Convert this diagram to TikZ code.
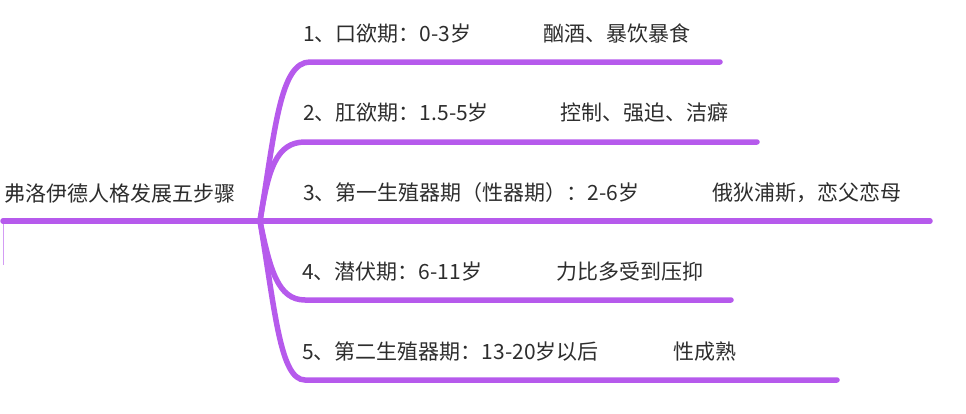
\documentclass[tikz,border=0pt]{standalone}
\usepackage{fontspec}
\setmainfont{Noto Sans CJK SC}
\usepackage{tikz}
\usepackage{xcolor}
\definecolor{branchpurple}{RGB}{182,90,236}
\definecolor{labelgray}{RGB}{45,45,45}
\tikzset{
    branch-line/.style = {draw=branchpurple, line width=5.5pt, line cap=round},
    stage-label/.style = {anchor=west, inner sep=0pt, text=labelgray, font=\fontsize{21}{24}\selectfont},
}
\begin{document}
\begin{tikzpicture}[x=1pt,y=-1pt]
\useasboundingbox (0,0) rectangle (966,413);
\coordinate (hub) at (260,221);
\coordinate (rootL) at (3,221);
\coordinate (tick) at (3,265);
\node[stage-label] (root) at (4,194) {弗洛伊德人格发展五步骤};
% branch ends
\coordinate (s1) at (310,62);  \coordinate (e1) at (720,62);
\coordinate (s2) at (305,142); \coordinate (e2) at (757,142);
\coordinate (e3) at (930,221);
\coordinate (s4) at (305,300); \coordinate (e4) at (731,300);
\coordinate (s5) at (305,380); \coordinate (e5) at (837,380);
\draw[branchpurple!60, line width=1pt] (rootL) -- (tick);
\draw[branch-line] (rootL) -- (hub) -- (e3);
\draw[branch-line] (hub) .. controls (275,130) and (280,62) .. (s1) -- (e1);
\draw[branch-line] (hub) .. controls (268,170) and (276,142) .. (s2) -- (e2);
\draw[branch-line] (hub) .. controls (270,270) and (278,300) .. (s4) -- (e4);
\draw[branch-line] (hub) .. controls (275,310) and (280,380) .. (s5) -- (e5);
% stage texts
\node[stage-label] (age1) at (303,34) {1、口欲期：0-3岁};
\node[stage-label] (trait1) at (543,34) {酗酒、暴饮暴食};
\node[stage-label] (age2) at (303,113) {2、肛欲期：1.5-5岁};
\node[stage-label] (trait2) at (560,113) {控制、强迫、洁癖};
\node[stage-label] (age3) at (303,193) {3、第一生殖器期（性器期）：2-6岁};
\node[stage-label] (trait3) at (712,193) {俄狄浦斯，恋父恋母};
\node[stage-label] (age4) at (302,272) {4、潜伏期：6-11岁};
\node[stage-label] (trait4) at (556,272) {力比多受到压抑};
\node[stage-label] (age5) at (302,352) {5、第二生殖器期：13-20岁以后};
\node[stage-label] (trait5) at (673,352) {性成熟};
\end{tikzpicture}
\end{document}
